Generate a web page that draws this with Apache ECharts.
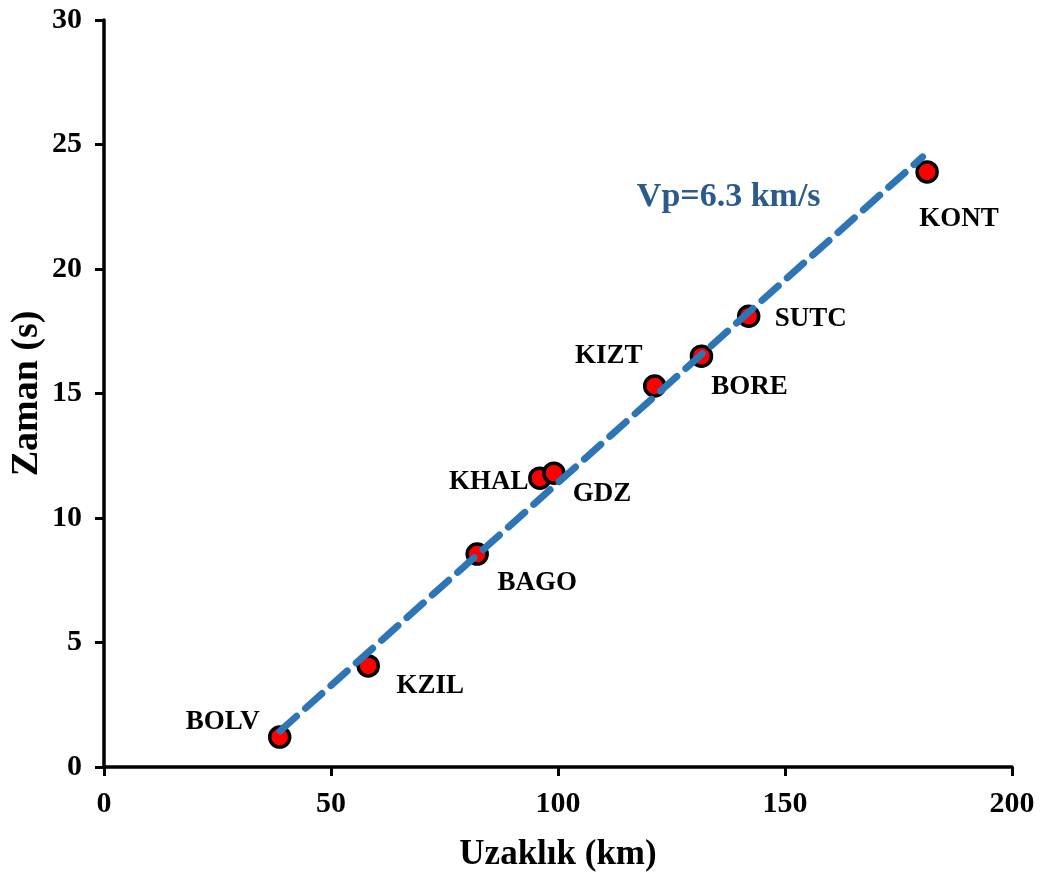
<!DOCTYPE html>
<html>
<head>
<meta charset="utf-8">
<script src="https://cdn.jsdelivr.net/npm/echarts@6/dist/echarts.min.js"></script>
<style>
  html, body { margin: 0; padding: 0; background: #fff; }
  #chart { width: 1043px; height: 877px; }
</style>
</head>
<body>
<div id="chart"></div>
<script>
// station distances (km) and P arrival times (s)
const stations = ['BOLV', 'KZIL', 'BAGO', 'KHAL', 'GDZ', 'KIZT', 'BORE', 'SUTC', 'KONT'];
const distances = [38.7, 58.2, 82.2, 96.0, 99.1, 121.3, 131.6, 142.0, 181.3];
const times = [1.2, 4.06, 8.55, 11.6, 11.8, 15.3, 16.5, 18.1, 23.9];

// fitted line end points
const fitX = [38.8, 180.3];
const fitY = [1.45, 24.5];
const fitLabel = 'Vp=6.3 km/s';
const fitLabelAt = [137.6, 22.9];

// label offsets in px (style only)
const labelOffsets = [[-57, -15], [62, 20], [60, 29], [-51, 4], [48, 21], [-46, -30], [48, 31], [62, 3], [32, 47]];

const font = '"Liberation Serif", "Times New Roman", serif';

const pts = distances.map((d, i) => ({
  value: [d, times[i]],
  name: stations[i],
  label: { offset: labelOffsets[i] }
}));

const chart = echarts.init(document.getElementById('chart'));
chart.setOption({
  animation: false,
  grid: { left: 104, right: 31, top: 20, bottom: 110, outerBoundsMode: 'none', containLabel: false },
  xAxis: {
    type: 'value', min: 0, max: 200, interval: 50,
    name: 'Uzaklık (km)', nameLocation: 'middle', nameGap: 70, nameMoveOverlap: false,
    nameTextStyle: { fontFamily: font, fontWeight: 'bold', fontSize: 35, color: '#000' },
    axisLine: { lineStyle: { color: '#000', width: 3.5 } },
    axisTick: { length: 9, lineStyle: { color: '#000', width: 3 } },
    axisLabel: { fontFamily: font, fontWeight: 'bold', fontSize: 30, color: '#000', margin: 22 },
    splitLine: { show: false }
  },
  yAxis: {
    type: 'value', min: 0, max: 30, interval: 5,
    name: 'Zaman (s)', nameLocation: 'middle', nameGap: 58, nameMoveOverlap: false,
    nameTextStyle: { fontFamily: font, fontWeight: 'bold', fontSize: 38, color: '#000' },
    axisLine: { show: true, lineStyle: { color: '#000', width: 3.5 } },
    axisTick: { show: true, length: 9, lineStyle: { color: '#000', width: 3 } },
    axisLabel: { fontFamily: font, fontWeight: 'bold', fontSize: 30, color: '#000', margin: 22 },
    splitLine: { show: false }
  },
  series: [
    {
      type: 'scatter',
      data: pts,
      symbolSize: 20,
      itemStyle: { color: '#ff0000', borderColor: '#000', borderWidth: 3.5, opacity: 1 },
      label: {
        show: true, position: 'inside',
        formatter: '{b}',
        fontFamily: font, fontWeight: 'bold', fontSize: 27, color: '#000'
      },
      z: 2
    },
    {
      type: 'line',
      data: fitX.map((x, i) => [x, fitY[i]]),
      symbol: 'none',
      lineStyle: { color: '#2E75B6', width: 7, type: [22, 12], cap: 'round' },
      z: 3
    },
    {
      type: 'scatter',
      data: [{ value: fitLabelAt, name: fitLabel }],
      symbolSize: 0,
      itemStyle: { opacity: 1 },
      label: {
        show: true, position: 'inside', formatter: '{b}',
        fontFamily: font, fontWeight: 'bold', fontSize: 34, color: '#2B5B8C', opacity: 1
      },
      z: 4
    }
  ]
});
</script>
</body>
</html>
